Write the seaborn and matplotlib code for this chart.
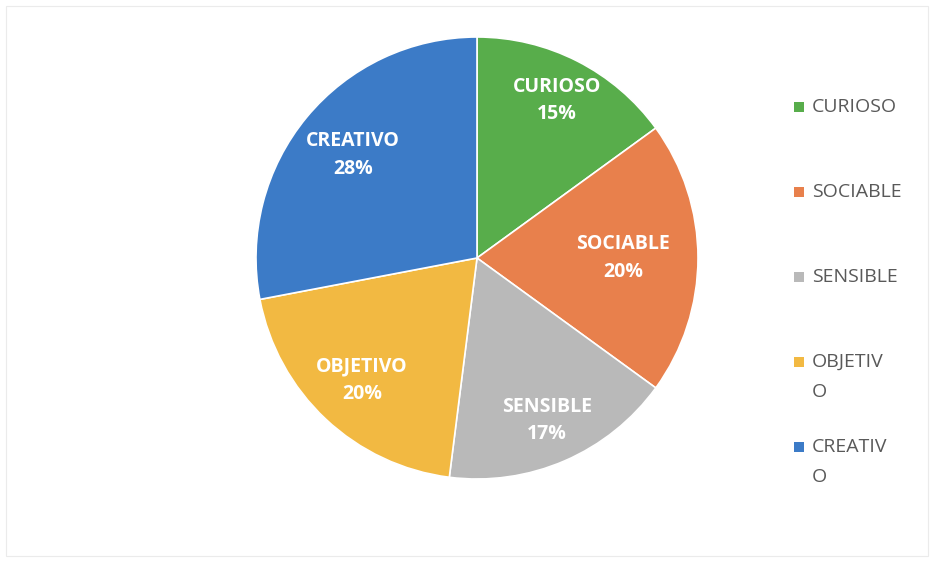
import matplotlib
matplotlib.use("Agg")
import matplotlib.pyplot as plt
from matplotlib.patches import Rectangle
import seaborn as sns
import numpy as np

categories = ["CURIOSO", "SOCIABLE", "SENSIBLE", "OBJETIVO", "CREATIVO"]
values = [15, 20, 17, 20, 28]
legend_labels = ["CURIOSO", "SOCIABLE", "SENSIBLE", "OBJETIV\nO", "CREATIV\nO"]
colors = ["#58AD4B", "#E8804C", "#B9B9B9", "#F2B942", "#3C7BC7"]
label_radius = [0.80, 0.66, 0.80, 0.76, 0.73]

sns.set_theme(style="white")
plt.rcParams["font.family"] = ["Open Sans", "DejaVu Sans"]

fig = plt.figure(figsize=(9.32, 5.64), dpi=100)
fig.patch.set_facecolor("white")
W, H = 932, 564
cx, cy, r = 477, 258, 221
ax = fig.add_axes([(cx - r) / W, (H - cy - r) / H, 2 * r / W, 2 * r / H])
wedges, _ = ax.pie(values, colors=colors, startangle=90, counterclock=False,
                   radius=1.0, wedgeprops=dict(edgecolor="white", linewidth=1.2))
ax.set_xlim(-1.0, 1.0)
ax.set_ylim(-1.0, 1.0)
ax.set_aspect("equal")
ax.axis("off")

for w, cat, v, lr in zip(wedges, categories, values, label_radius):
    mid = np.deg2rad((w.theta1 + w.theta2) / 2)
    x, y = lr * np.cos(mid), lr * np.sin(mid)
    ax.text(x, y, f"{cat}\n{v}%", ha="center", va="center", color="white",
            fontsize=14, fontweight="bold", linespacing=1.5)

# legend (drawn manually to keep Excel-like fixed row pitch)
for i, (lab, col) in enumerate(zip(legend_labels, colors)):
    ytop = 107 + 85 * i
    fig.patches.append(Rectangle((794 / W, (H - ytop - 5) / H), 10 / W, 10 / H,
                                 transform=fig.transFigure, facecolor=col,
                                 edgecolor="none"))
    for k, line in enumerate(lab.split("\n")):
        fig.text(812 / W, (H - ytop - 30 * k) / H, line, ha="left", va="center",
                 color="#595959", fontsize=14, transform=fig.transFigure)

fig.patches.append(Rectangle((6 / W, 8 / H), 922 / W, 550 / H, transform=fig.transFigure,
                             facecolor="none", edgecolor="#EBEBEB", linewidth=0.8))

fig.savefig("out.png", dpi=100, facecolor="white")
